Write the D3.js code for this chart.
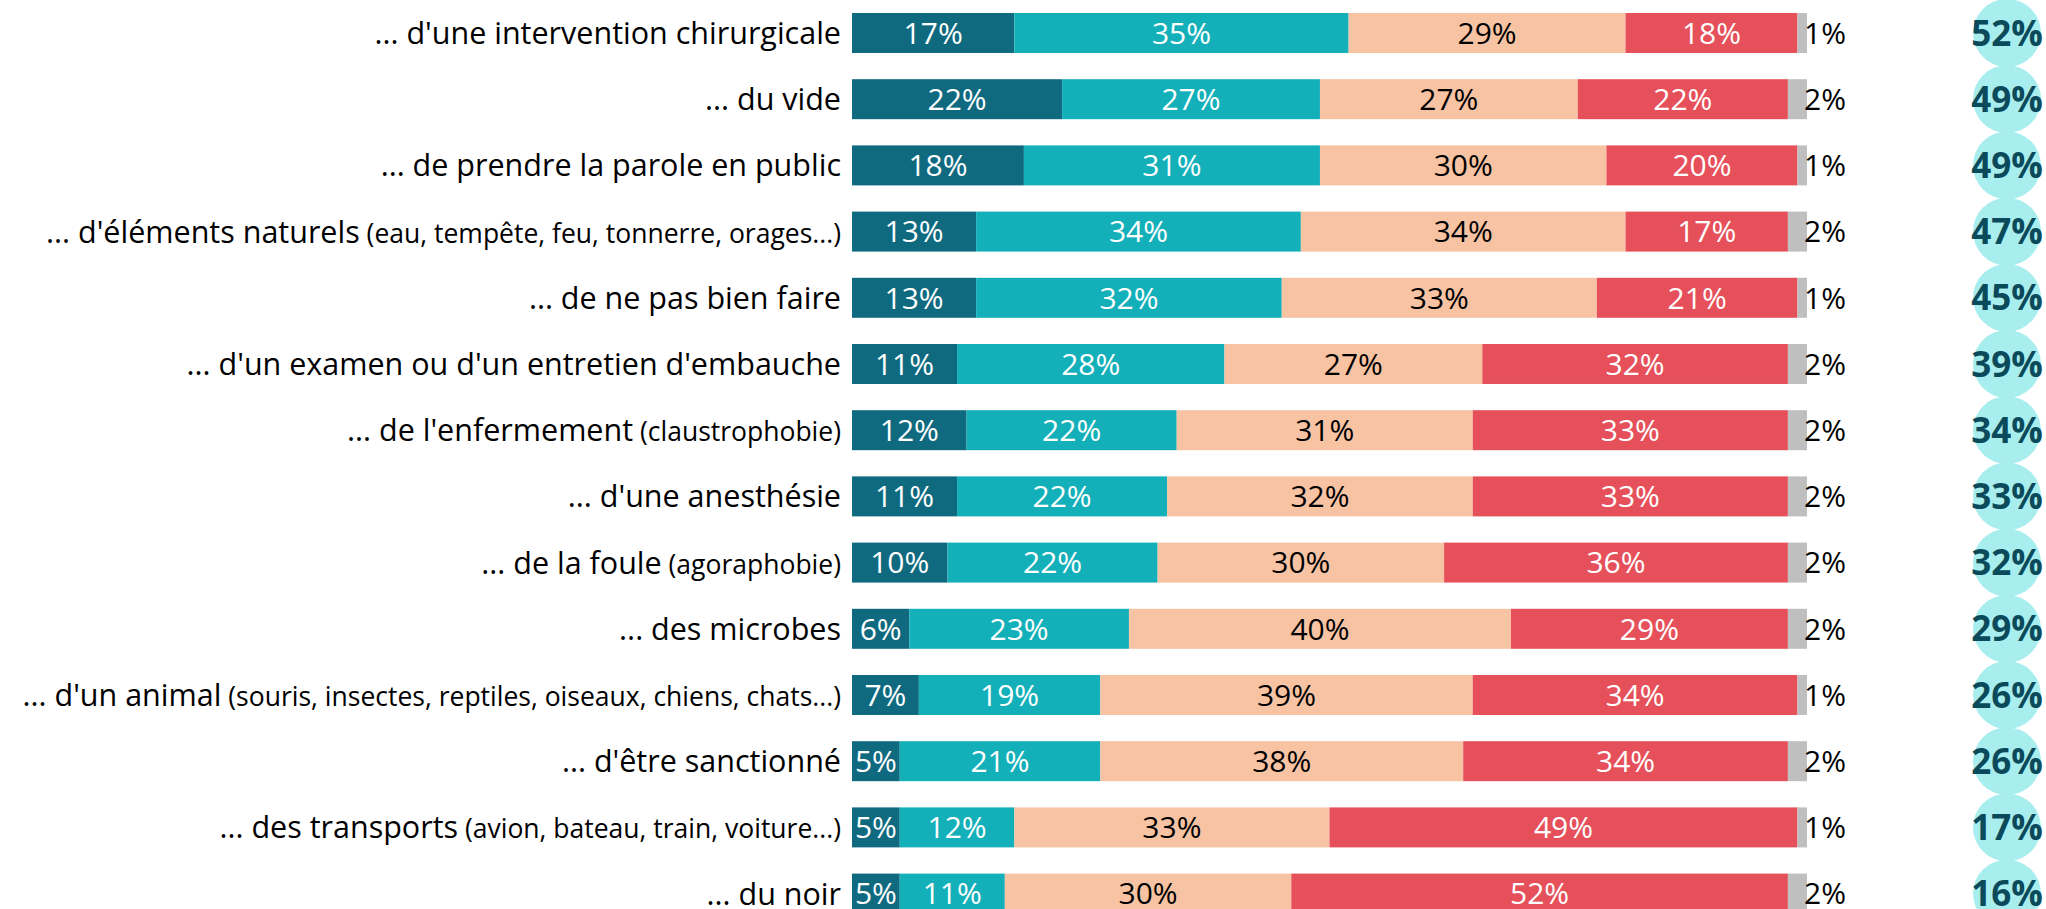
<!DOCTYPE html>
<html>
<head>
<meta charset="utf-8">
<script src="https://cdn.jsdelivr.net/npm/d3@7"></script>
<style>
  body { margin: 0; background: #fff; }
  svg { display: block; font-family: "Open Sans", "Noto Sans", sans-serif; }
</style>
</head>
<body>
<svg id="chart" width="2046" height="909"></svg>
<script>
// libellés : partie principale + précision entre parenthèses (plus petite)
const labels = [
  "... d'une intervention chirurgicale",
  "... du vide",
  "... de prendre la parole en public",
  "... d'éléments naturels",
  "... de ne pas bien faire",
  "... d'un examen ou d'un entretien d'embauche",
  "... de l'enfermement",
  "... d'une anesthésie",
  "... de la foule",
  "... des microbes",
  "... d'un animal",
  "... d'être sanctionné",
  "... des transports",
  "... du noir"
]
const sublabels = [
  "", "", "", "(eau, tempête, feu, tonnerre, orages...)", "", "",
  "(claustrophobie)", "", "(agoraphobie)", "",
  "(souris, insectes, reptiles, oiseaux, chiens, chats...)", "",
  "(avion, bateau, train, voiture...)", ""
]

const series = ["tres", "assez", "peu", "pasdutout", "nsp"]
const tres      = [17, 22, 18, 13, 13, 11, 12, 11, 10, 6, 7, 5, 5, 5]
const assez     = [35, 27, 31, 34, 32, 28, 22, 22, 22, 23, 19, 21, 12, 11]
const peu       = [29, 27, 30, 34, 33, 27, 31, 32, 30, 40, 39, 38, 33, 30]
const pasdutout = [18, 22, 20, 17, 21, 32, 33, 33, 36, 29, 34, 34, 49, 52]
const nsp       = [1, 2, 1, 2, 1, 2, 2, 2, 2, 2, 1, 2, 1, 2]
const totalPeur = [52, 49, 49, 47, 45, 39, 34, 33, 32, 29, 26, 26, 17, 16]

const colors = {
  tres: "#0f6a80", assez: "#13b0b9", peu: "#f7c3a3", pasdutout: "#e6505a", nsp: "#bfbfbf"
}
const textColors = {
  tres: "#fff", assez: "#fff", peu: "#000", pasdutout: "#fff", nsp: "#000"
}

const svg = d3.select('#chart')

const rows = labels.map((l, i) => ({
  label: l, sub: sublabels[i],
  tres: tres[i], assez: assez[i], peu: peu[i], pasdutout: pasdutout[i], nsp: nsp[i],
  total: totalPeur[i]
}))

const step = 66.2, pad = 0.396
const y = d3.scaleBand()
  .domain(d3.range(rows.length))
  .range([13 - pad * step, 13 - pad * step + step * (rows.length + pad)])
  .padding(pad)

const x = d3.scaleLinear()
  .domain([0, 100])
  .range([852, 1807])

const stacked = d3.stack().keys(series)(rows)

// barres empilées
const layers = svg.append('g')
  .selectAll('g')
  .data(stacked)
  .enter()
  .append('g')
  .attr('fill', d => colors[d.key])

layers.selectAll('rect')
  .data(d => d.map((v, i) => ({v: v, i: i, key: d.key})))
  .enter()
  .append('rect')
  .attr('x', d => x(d.v[0]))
  .attr('y', d => y(d.i))
  .attr('width', d => x(d.v[1]) - x(d.v[0]))
  .attr('height', y.bandwidth())

// valeurs dans les segments (nsp juste après la barre)
layers.selectAll('text')
  .data(d => d.map((v, i) => ({v: v, i: i, key: d.key})))
  .enter()
  .append('text')
  .attr('x', d => d.key === 'nsp' ? x(d.v[1]) - 3 : (x(d.v[0]) + x(d.v[1])) / 2)
  .attr('y', d => y(d.i) + y.bandwidth() / 2)
  .attr('dy', '0.36em')
  .attr('text-anchor', d => d.key === 'nsp' ? 'start' : 'middle')
  .attr('fill', d => textColors[d.key])
  .style('font-size', '30px')
  .text(d => (d.v[1] - d.v[0]) + '%')

// libellés à gauche
const lab = svg.append('g')
  .selectAll('text')
  .data(rows)
  .enter()
  .append('text')
  .attr('x', 841)
  .attr('y', (d, i) => y(i) + y.bandwidth() / 2)
  .attr('dy', '0.36em')
  .attr('text-anchor', 'end')
  .attr('fill', '#000')
  .style('font-size', '30.5px')

lab.append('tspan').text(d => d.label)
lab.filter(d => d.sub !== '')
  .append('tspan')
  .style('font-size', '26.5px')
  .text(d => ' ' + d.sub)

// pastilles du total
const cx = 2007
svg.append('g')
  .selectAll('circle')
  .data(rows)
  .enter()
  .append('circle')
  .attr('cx', cx)
  .attr('cy', (d, i) => y(i) + y.bandwidth() / 2)
  .attr('r', 34)
  .attr('fill', '#a8eeee')

svg.append('g')
  .selectAll('text')
  .data(rows)
  .enter()
  .append('text')
  .attr('x', cx)
  .attr('y', (d, i) => y(i) + y.bandwidth() / 2)
  .attr('dy', '0.36em')
  .attr('text-anchor', 'middle')
  .attr('fill', '#0b4a5a')
  .style('font-size', '35px')
  .style('font-weight', 'bold')
  .text(d => d.total + '%')
</script>
</body>
</html>
